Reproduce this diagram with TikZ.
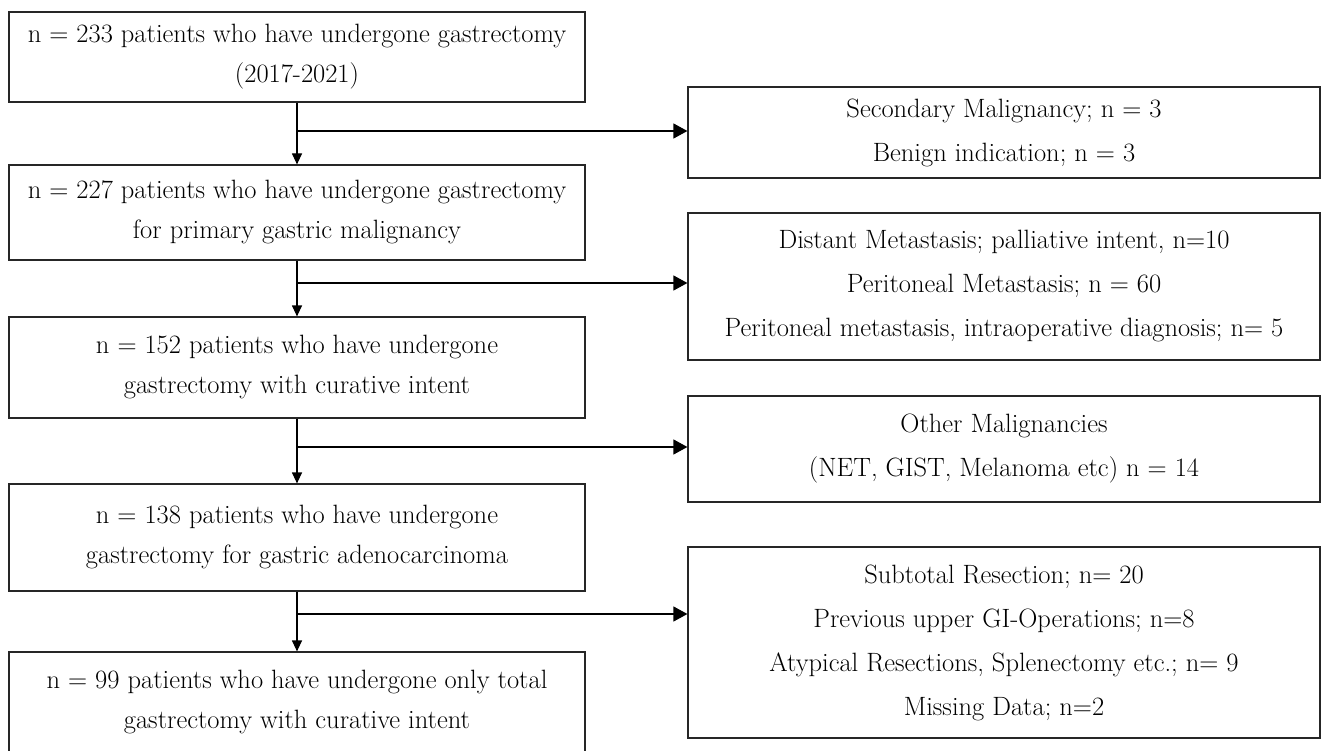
\documentclass[tikz,border=0pt]{standalone}
\usepackage{tikz}
\usetikzlibrary{arrows.meta}

\begin{document}
\begin{tikzpicture}[x=1pt,y=-1pt,
    leftbox/.style={draw=black!85, line width=1.2pt, minimum width=576pt, align=center, inner sep=0pt, font=\fontsize{26.5}{40}\selectfont},
    rightbox/.style={draw=black!85, line width=1.2pt, minimum width=632pt, align=center, inner sep=0pt, font=\fontsize{26.5}{44}\selectfont},
    flowdown/.style={line width=1.2pt, -{Triangle[length=11pt,width=10pt]}},
    flowside/.style={line width=1.2pt, -{Triangle[length=14pt,width=15pt]}}]
    \useasboundingbox (0,0) rectangle (1322,751);

    % Main boxes
    \node[leftbox, minimum height=90pt] (b1) at (297,57) {n = 233 patients who have undergone gastrectomy\\(2017-2021)};
    \node[leftbox, minimum height=95pt] (b2) at (297,212.5) {n = 227 patients who have undergone gastrectomy\\for primary gastric malignancy};
    \node[leftbox, minimum height=101pt] (b3) at (297,367.5) {n = 152 patients who have undergone\\gastrectomy with curative intent};
    \node[leftbox, minimum height=107pt] (b4) at (297,537.5) {n = 138 patients who have undergone\\gastrectomy for gastric adenocarcinoma};
    \node[leftbox, minimum height=101pt] (b5) at (297,702.5) {n = 99 patients who have undergone only total\\gastrectomy with curative intent};

    % Exclusion boxes
    \node[rightbox, minimum height=91pt] (r1) at (1004,132.5) {Secondary Malignancy; n = 3\\Benign indication; n = 3};
    \node[rightbox, minimum height=147pt] (r2) at (1004,286.5) {Distant Metastasis; palliative intent, n=10\\Peritoneal Metastasis; n = 60\\Peritoneal metastasis, intraoperative diagnosis; n= 5};
    \node[rightbox, minimum height=106pt] (r3) at (1004,449) {Other Malignancies\\(NET, GIST, Melanoma etc) n = 14};
    \node[rightbox, minimum height=191pt] (r4) at (1004,642.5) {Subtotal Resection; n= 20\\Previous upper GI-Operations; n=8\\Atypical Resections, Splenectomy etc.; n= 9\\Missing Data; n=2};

    % Branch points
    \coordinate (j1) at (297,131);
    \coordinate (j2) at (297,283);
    \coordinate (j3) at (297,447);
    \coordinate (j4) at (297,614);

    % Connect boxes
    \draw[flowdown] (b1.south) -- (b2.north);
    \draw[flowdown] (b2.south) -- (b3.north);
    \draw[flowdown] (b3.south) -- (b4.north);
    \draw[flowdown] (b4.south) -- (b5.north);
    \draw[flowside] (j1) -- (j1 -| r1.west);
    \draw[flowside] (j2) -- (j2 -| r2.west);
    \draw[flowside] (j3) -- (j3 -| r3.west);
    \draw[flowside] (j4) -- (j4 -| r4.west);
\end{tikzpicture}
\end{document}
